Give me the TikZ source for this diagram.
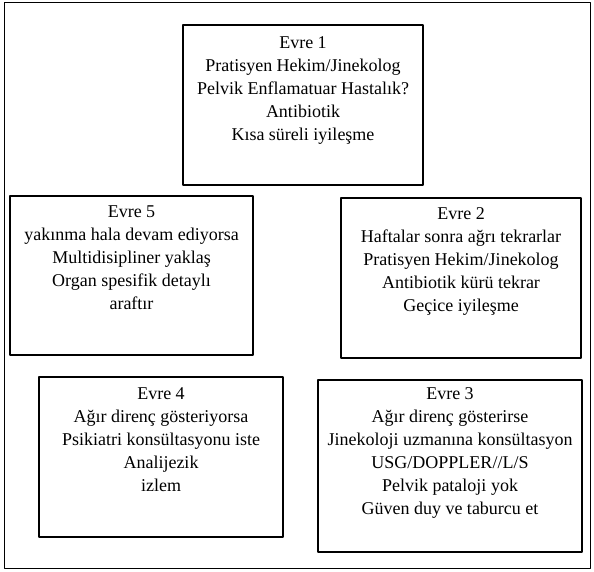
\documentclass[tikz,border=0pt]{standalone}
\usepackage{fontspec}
\setmainfont{Liberation Serif}
\begin{document}
\begin{tikzpicture}[x=1pt,y=-1pt,line join=round,
	evre/.style={draw,line width=1.2pt,inner sep=0pt},
	evretext/.style={anchor=north,align=center,inner sep=0pt,
		font=\fontsize{18}{23}\selectfont}]
	\useasboundingbox (0,0) rectangle (594,572);
	\draw[line width=1pt] (4,3) rectangle (590,568);
	% kutular
	\node[evre,minimum width=240,minimum height=160] (evre1) at (303,105) {};
	\node[evre,minimum width=240,minimum height=160] (evre2) at (461,278) {};
	\node[evre,minimum width=264,minimum height=172] (evre3) at (450,466) {};
	\node[evre,minimum width=244,minimum height=160] (evre4) at (161,457) {};
	\node[evre,minimum width=243,minimum height=159] (evre5) at (131.5,275.5) {};
	% yazilar
	\node[evretext] (evre1txt) at ([yshift=-12]evre1.north)
		{Evre 1\\Pratisyen Hekim/Jinekolog\\Pelvik Enflamatuar Hastalık?\\Antibiotik\\Kısa süreli iyileşme};
	\node[evretext] (evre2txt) at ([yshift=-10]evre2.north)
		{Evre 2\\Haftalar sonra ağrı tekrarlar\\Pratisyen Hekim/Jinekolog\\Antibiotik kürü tekrar\\Geçice iyileşme};
	\node[evretext] (evre3txt) at ([yshift=-8]evre3.north)
		{Evre 3\\Ağır direnç gösterirse\\Jinekoloji uzmanına konsültasyon\\USG/DOPPLER//L/S\\Pelvik pataloji yok\\Güven duy ve taburcu et};
	\node[evretext] (evre4txt) at ([yshift=-11]evre4.north)
		{Evre 4\\Ağır direnç gösteriyorsa\\Psikiatri konsültasyonu iste\\Analijezik\\izlem};
	\node[evretext] (evre5txt) at ([yshift=-10]evre5.north)
		{Evre 5\\yakınma hala devam ediyorsa\\Multidisipliner yaklaş\\Organ spesifik detaylı\\araftır};
\end{tikzpicture}
\end{document}
